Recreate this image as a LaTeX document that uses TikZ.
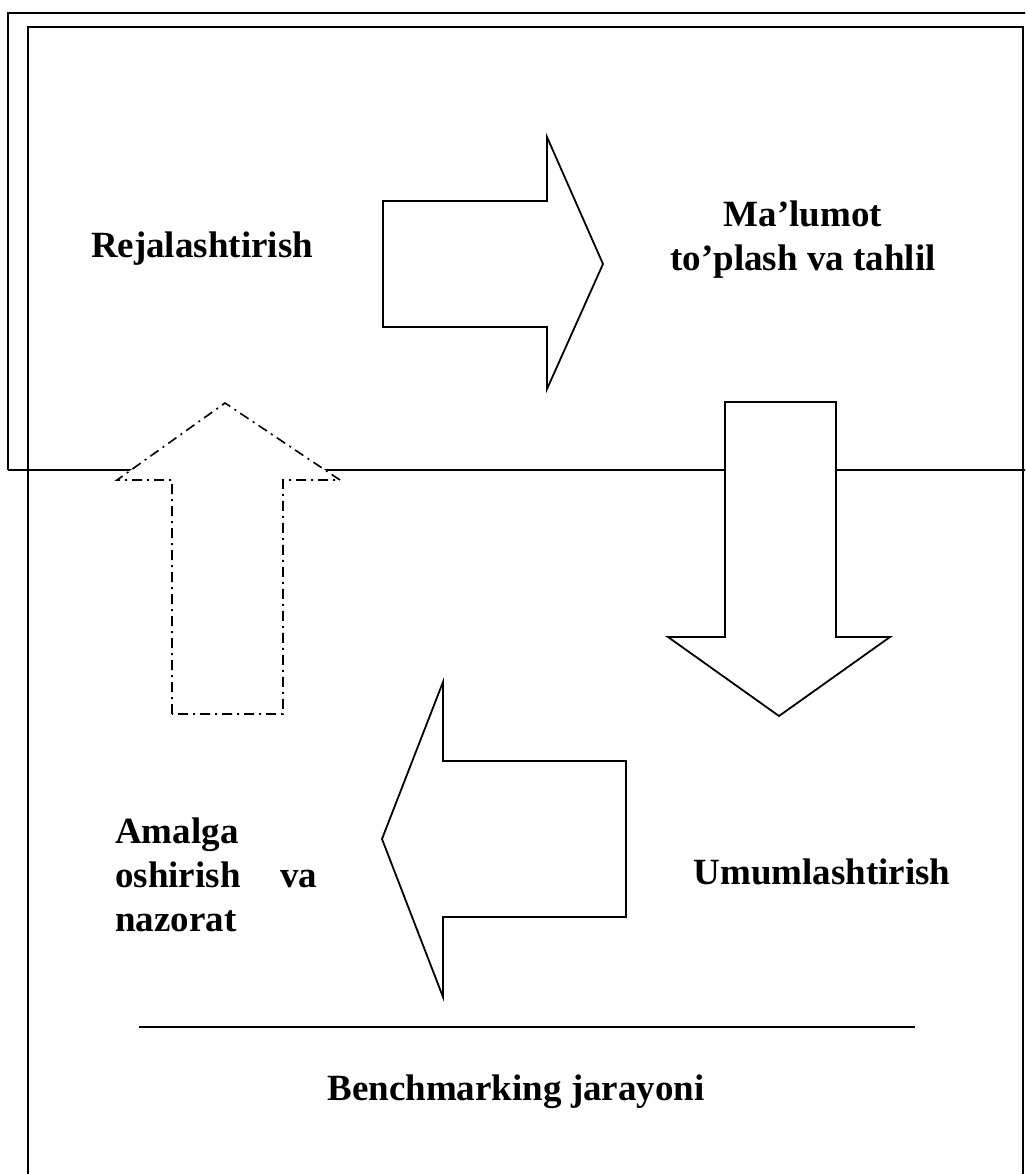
\documentclass[tikz,border=0pt]{standalone}
\usepackage{fontspec}
\setmainfont{Liberation Serif}
\begin{document}
\begin{tikzpicture}[x=1pt,y=-1pt,
  frame/.style={line width=1.8pt,black},
  blockarrow/.style={line width=1.8pt,fill=white,line join=miter},
  dashedarrow/.style={line width=1.6pt,fill=white,
    dash pattern=on 10pt off 5pt on 2pt off 5pt},
  label/.style={font=\fontsize{37}{44}\selectfont\bfseries,inner sep=0pt,align=center}]
\useasboundingbox (0,0) rectangle (1025,1174);
\clip (0,0) rectangle (1025,1174);
% outer frame (upper part) and inner frame (whole page)
\draw[frame] (8,470) -- (8,13) -- (1040,13);
\draw[frame] (8,470) -- (1040,470);
\draw[frame] (28,1190) -- (28,27) -- (1023,27) -- (1023,1190);
% block arrow to the right
\draw[blockarrow] (383,201) -- (547,201) -- (547,137) -- (603,264) -- (547,389)
  -- (547,327) -- (383,327) -- cycle;
% block arrow downwards
\draw[blockarrow] (725,402) -- (836,402) -- (836,637) -- (890,637) -- (779,716)
  -- (668,637) -- (725,637) -- cycle;
% block arrow to the left
\draw[blockarrow] (626,761) -- (626,917) -- (443,917) -- (443,997) -- (382,839)
  -- (443,682) -- (443,761) -- cycle;
% dash-dotted block arrow upwards
\draw[dashedarrow] (172,714) -- (172,480) -- (117,480) -- (225,403) -- (340,480)
  -- (283,480) -- (283,714) -- cycle;
% separator line above the caption
\draw[line width=1.8pt] (139,1027) -- (915,1027);
% labels
\node[label] (plan) at (202,249) {Rejalashtirish};
\node[label] (data) at (803,240) {Ma’lumot\\to’plash va tahlil};
\node[label] (gen) at (822,872) {Umumlashtirish};
\node[label,anchor=north west,align=left,text width=202pt] (impl) at (115,818)
  {Amalga\\oshirish\hfill va\\nazorat};
\node[label] (title) at (516,1092) {Benchmarking jarayoni};
\end{tikzpicture}
\end{document}
